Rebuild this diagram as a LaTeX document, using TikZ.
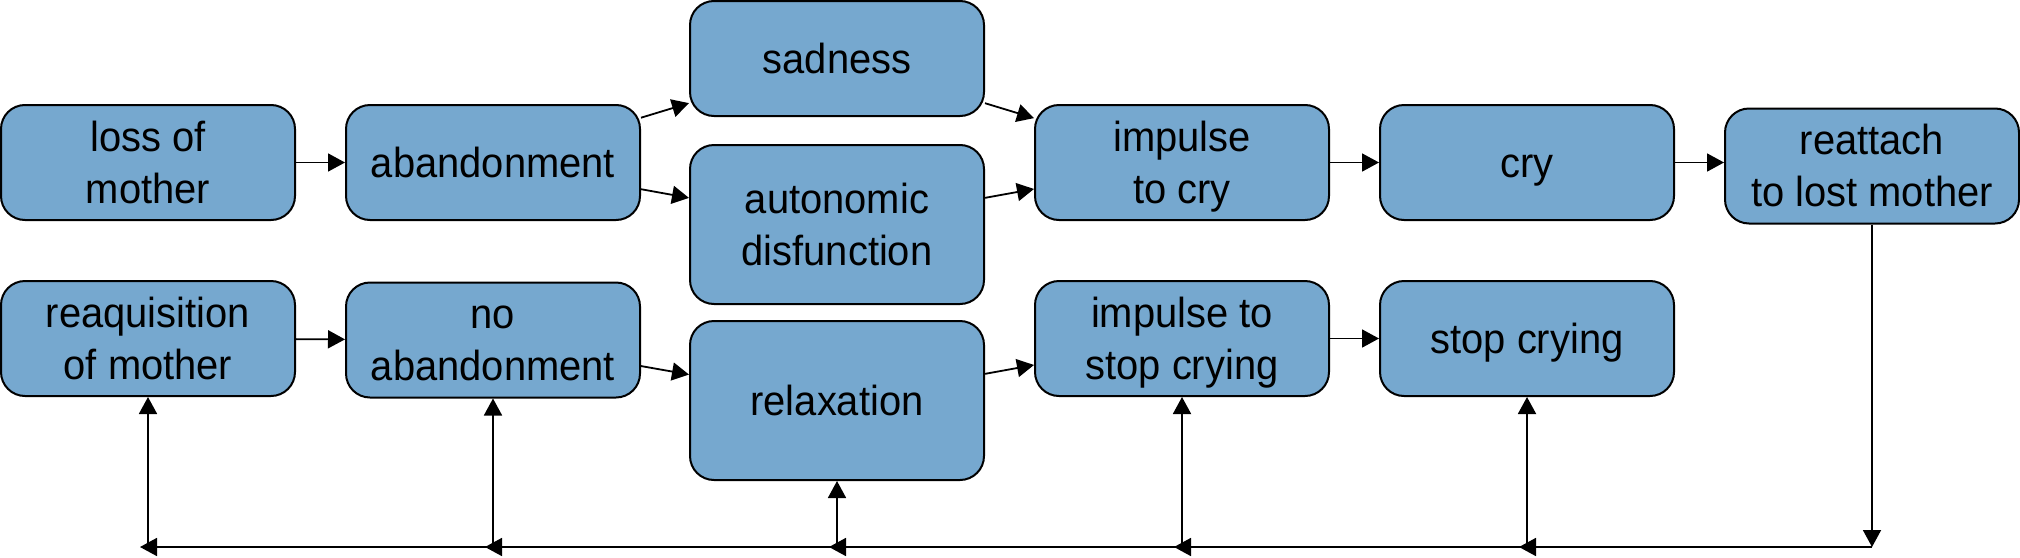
\documentclass[tikz,border=0pt]{standalone}
\usepackage{fontspec}
\setmainfont{Liberation Sans}
\newfontfamily\boxfont[FakeStretch=0.95]{Liberation Sans}
\newcommand\ms{\rule[-11pt]{0pt}{51pt}}
\usetikzlibrary{arrows.meta}
\definecolor{boxfill}{RGB}{118,168,207}
\begin{document}
\begin{tikzpicture}[x=1pt,y=-1pt,
  box/.style={draw=black, line width=2pt, fill=boxfill, rounded corners=24pt,
    minimum width=294pt, minimum height=115pt, inner sep=0pt, align=center,
    font=\boxfont\fontsize{42}{52}\selectfont},
  tall/.style={minimum height=159pt},
  arr/.style={line width=1.8pt, -{Triangle[length=17pt,width=18pt]}},
  barr/.style={arr, shorten >=-8pt}]
\useasboundingbox (0,0) rectangle (2020,557);
% row 1
\node[box] (loss) at (148,162.5) {\ms loss of\\mother\ms};
\node[box] (aband) at (493,162.5) {\ms abandonment\ms};
\node[box] (sad) at (837,58.5) {\ms sadness\ms};
\node[box,tall] (auto) at (837,224.5) {\ms autonomic\\disfunction\ms};
\node[box] (impcry) at (1182,162.5) {\ms impulse\\to cry\ms};
\node[box] (cry) at (1527,162.5) {\ms cry\ms};
\node[box] (reatt) at (1872,166) {\ms reattach\\to lost mother\ms};
% row 2
\node[box] (reaq) at (148,338.5) {\ms reaquisition\\of mother\ms};
\node[box] (noab) at (493,340) {\ms no\\abandonment\ms};
\node[box,tall] (relax) at (837,400.5) {\ms relaxation\ms};
\node[box] (impstop) at (1182,338.5) {\ms impulse to\\stop crying\ms};
\node[box] (stop) at (1527,338.5) {\ms stop crying\ms};
% bottom line points
\coordinate (b1) at (148,547);
\coordinate (b2) at (493,547);
\coordinate (b3) at (837,547);
\coordinate (b4) at (1182,547);
\coordinate (b5) at (1527,547);
\coordinate (b6) at (1872,547);
% connectors
\draw[arr] (loss) -- (aband);
\draw[arr] (aband) -- (sad);
\draw[arr] (aband) -- (auto);
\draw[arr] (sad) -- (impcry);
\draw[arr] (auto) -- (impcry);
\draw[arr] (impcry) -- (cry);
\draw[arr] (cry.east) -- (reatt.west|-cry.east);
\draw[arr] (reaq) -- (noab);
\draw[arr] (noab) -- (relax);
\draw[arr] (relax) -- (impstop);
\draw[arr] (impstop) -- (stop);
% feedback
\draw[arr] (reatt) -- (b6);
\draw[barr] (b6) -- (b5);
\draw[barr] (b5) -- (b4);
\draw[barr] (b4) -- (b3);
\draw[barr] (b3) -- (b2);
\draw[barr] (b2) -- (b1);
\draw[arr] (b1) -- (reaq);
\draw[arr] (b2) -- (noab);
\draw[arr] (b3) -- (relax);
\draw[arr] (b4) -- (impstop);
\draw[arr] (b5) -- (stop);
\end{tikzpicture}
\end{document}
